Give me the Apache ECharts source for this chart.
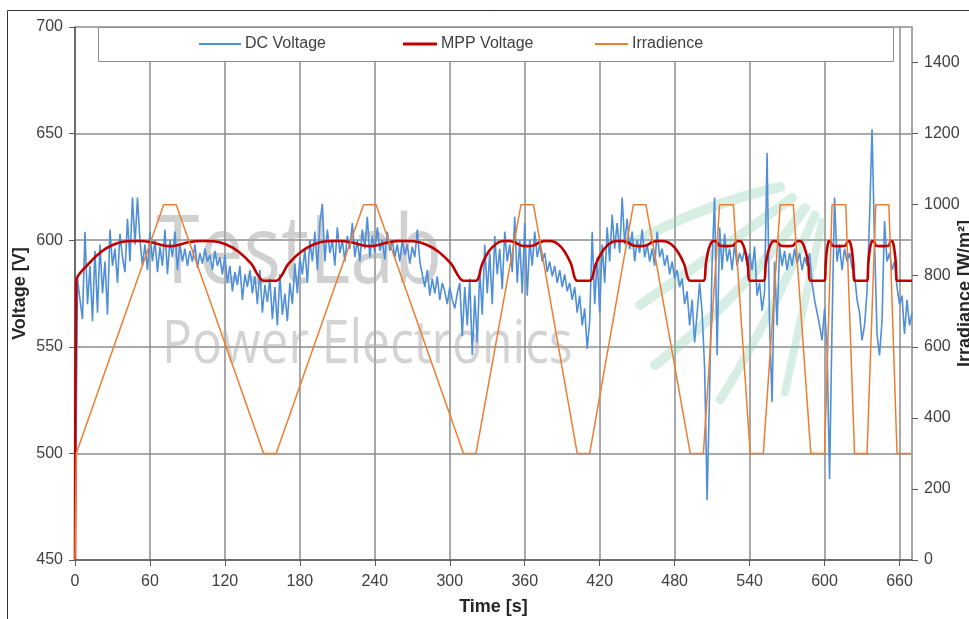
<!DOCTYPE html>
<html><head><meta charset="utf-8">
<script src="https://cdn.jsdelivr.net/npm/echarts@6/dist/echarts.min.js"></script>
<style>html,body{margin:0;padding:0;background:#fff}#c{width:969px;height:619px}</style>
</head><body><div id="c"></div>
<script>
// ---------- data ----------
const seriesNames = ['DC Voltage', 'MPP Voltage', 'Irradience'];

// DC voltage sampled every 2 s starting at t = 0
const dcStep = 2;
const dcVolt = [
  450,
  582, 572, 563, 604, 570, 588, 562, 595, 566, 598,
  575, 590, 565, 605, 588, 596, 580, 603, 592, 585,
  610, 590, 620, 598, 620, 600, 588, 598, 586, 604,
  590, 600, 585, 597, 588, 605, 584, 600, 592, 604,
  586, 598, 590, 596, 588, 595, 590, 598, 587, 594,
  589, 596, 590, 593, 586, 595, 588, 592, 584, 593,
  580, 588, 576, 585, 579, 588, 572, 584, 578, 586,
  575, 583, 570, 586, 566, 579, 571, 582, 563, 578,
  560, 584, 565, 575, 562, 580, 570, 589, 575, 592,
  584, 596, 580, 600, 590, 604, 586, 608, 617, 590,
  605, 594, 600, 588, 606, 594, 600, 590, 602, 596,
  608, 592, 600, 590, 605, 596, 611, 592, 602, 594,
  606, 595, 600, 591, 604, 595, 600, 592, 598, 590,
  600, 593, 598, 589, 597, 592, 605, 590, 584, 578,
  586, 574, 582, 575, 583, 572, 580, 576, 570, 578,
  572, 568, 575, 580, 555, 578, 560, 582, 546, 574,
  552, 586, 565, 598, 575, 594, 570, 602, 584, 596,
  577, 604, 590, 598, 585, 611, 580, 600, 575, 608,
  574, 600, 588, 604, 592, 598, 590, 594, 585, 590,
  583, 588, 580, 586, 578, 584, 576, 580, 572, 578,
  566, 574, 560, 568, 549, 562, 604, 570, 592, 566,
  598, 580, 606, 590, 612, 596, 608, 594, 620, 598,
  610, 596, 604, 590, 600, 594, 605, 592, 598, 590,
  596, 588, 604, 592, 596, 588, 593, 584, 590, 582,
  586, 578, 582, 570, 576, 560, 572, 552, 566, 580,
  566, 540, 478, 530, 590, 620, 546, 606, 586, 603,
  590, 596, 586, 598, 588, 594, 590, 596, 588, 594,
  586, 597, 574, 580, 567, 576, 641, 560, 524, 590,
  560, 597, 588, 595, 586, 594, 588, 596, 589, 594,
  586, 592, 588, 594, 580, 572, 566, 560, 553, 568,
  550, 488, 560, 620, 590, 598, 586, 596, 590, 594,
  587, 584, 572, 566, 553, 560, 576, 610, 652, 600,
  556, 546, 562, 609, 590, 594, 586, 590, 578, 570,
  574, 556, 572, 560, 566
];

// MPP voltage
const mppTime = [
  0, 1, 11, 21, 31, 41, 51, 61, 71, 76, 81, 91, 101, 111, 121, 131, 141, 151,
  161, 171, 181, 191, 201, 211, 221, 231, 236, 241, 251, 261, 271, 281, 291, 301, 311,
  321, 326, 331, 336.5, 341.5, 346.5, 352, 357, 362, 367, 372, 377, 382, 387, 392, 397, 402,
  412, 417, 422, 427, 432, 437, 442, 447, 452, 457, 462, 467, 472, 477.5, 482.5, 487.5, 492.5,
  503, 505, 506.7, 508.6, 510.4, 512.3, 514, 516, 521.5, 527, 529, 530.9, 532.8, 534.7, 536.6, 538.5, 540.5,
  551, 553, 554.9, 556.8, 558.7, 560.6, 562.5, 564.5, 570, 575, 577, 579, 581, 583, 585, 587, 589,
  600, 600.9, 601.7, 602.6, 603.4, 604.3, 605.1, 606, 611.5, 617, 618, 619, 620, 621, 622, 623, 624,
  634, 635, 636, 637, 638, 639, 640, 641, 646, 651.5, 652.4, 653.4, 654.3, 655.2, 656.1, 657.1, 658,
  670
];
const mppVolt = [
  450, 581, 589, 594.6, 598, 599.5, 599.6, 599, 597.5, 597.2, 597.5, 599, 599.6, 599.5, 598, 594.6, 589, 581,
  581, 589, 594.6, 598, 599.5, 599.6, 599, 597.5, 597.2, 597.5, 599, 599.6, 599.5, 598, 594.6, 589, 581,
  581, 589, 594.6, 598, 599.5, 599.6, 599, 597.5, 597.2, 597.5, 599, 599.6, 599.5, 598, 594.6, 589, 581,
  581, 589, 594.6, 598, 599.5, 599.6, 599, 597.5, 597.2, 597.5, 599, 599.6, 599.5, 598, 594.6, 589, 581,
  581, 589, 594.6, 598, 599.5, 599.6, 599, 597.5, 597.2, 597.5, 599, 599.6, 599.5, 598, 594.6, 589, 581,
  581, 589, 594.6, 598, 599.5, 599.6, 599, 597.5, 597.2, 597.5, 599, 599.6, 599.5, 598, 594.6, 589, 581,
  581, 589, 594.6, 598, 599.5, 599.6, 599, 597.5, 597.2, 597.5, 599, 599.6, 599.5, 598, 594.6, 589, 581,
  581, 589, 594.6, 598, 599.5, 599.6, 599, 597.5, 597.2, 597.5, 599, 599.6, 599.5, 598, 594.6, 589, 581,
  581
];

// Irradiance
const irrTime = [0, 1, 71, 81, 151, 161, 231, 241, 311, 321, 357, 367, 402, 412, 447, 457, 492.5, 503,
  516, 527, 540.5, 551, 564.5, 575, 589, 600, 606, 617, 624, 634, 641, 651.5, 658, 670];
const irrValue = [0, 300, 1000, 1000, 300, 300, 1000, 1000, 300, 300, 1000, 1000, 300, 300, 1000, 1000, 300, 300,
  1000, 1000, 300, 300, 1000, 1000, 300, 300, 1000, 1000, 300, 300, 1000, 1000, 300, 300];

// ---------- build ----------
const dcData = dcVolt.map((v, i) => [i * dcStep, v]);
const mppData = mppTime.map((t, i) => [t, mppVolt[i]]);
const irrData = irrTime.map((t, i) => [t, irrValue[i]]);

const FONT = '"Liberation Sans", Arial, sans-serif';
const LBL = '#404040';
const colors = ['#4f8fd8', '#c00000', '#ed7d31'];
const plain = v => String(v);
const titleStyle = { fontFamily: FONT, fontSize: 18, fontWeight: 'bold', color: '#262626' };

function legendItem(name, left, w, h, color) {
  return {
    data: [name], left: left, top: 36, padding: 0, itemWidth: w, itemHeight: h,
    itemGap: 0, icon: 'rect', z: 10,
    itemStyle: { color: color },
    textStyle: { fontFamily: FONT, fontSize: 16, color: LBL, padding: [0, 0, 0, -1] }
  };
}

const chart = echarts.init(document.getElementById('c'), null, { renderer: 'canvas' });
chart.setOption({
  animation: false,
  backgroundColor: '#ffffff',
  grid: { left: 75, right: 57, top: 27, bottom: 59, containLabel: false, outerBoundsMode: 'none' },
  legend: [
    legendItem(seriesNames[0], 199, 42, 2, colors[0]),
    legendItem(seriesNames[1], 403, 34, 3, colors[1]),
    legendItem(seriesNames[2], 595, 33, 2, colors[2])
  ],
  graphic: [
    { type: 'line', silent: true, z: 0, shape: { x1: 7.5, y1: 10.5, x2: 969, y2: 10.5 },
      style: { stroke: '#333333', lineWidth: 1 } },
    { type: 'line', silent: true, z: 0, shape: { x1: 7.5, y1: 10.5, x2: 7.5, y2: 619 },
      style: { stroke: '#333333', lineWidth: 1 } },
    { type: 'text', silent: true, z: 1, x: 156, y: 208, scaleX: 0.82,
      style: { text: 'TestLab', fontSize: 96, fontFamily: '"Open Sans", sans-serif', fill: 'rgba(170,170,170,0.55)' } },
    { type: 'text', silent: true, z: 1, x: 162, y: 316, scaleX: 0.83,
      style: { text: 'Power Electronics', fontSize: 60, fontFamily: '"Open Sans", sans-serif', fill: 'rgba(175,175,175,0.55)' } },
    { type: 'bezierCurve', silent: true, z: 1, shape: { x1: 630, y1: 245, x2: 780, y2: 187, cpx1: 700, cpy1: 205 },
      style: { stroke: 'rgba(140,205,180,0.35)', lineWidth: 10, fill: 'none', lineCap: 'round' } },
    { type: 'bezierCurve', silent: true, z: 1, shape: { x1: 640, y1: 305, x2: 792, y2: 198, cpx1: 720, cpy1: 250 },
      style: { stroke: 'rgba(140,205,180,0.35)', lineWidth: 10, fill: 'none', lineCap: 'round' } },
    { type: 'bezierCurve', silent: true, z: 1, shape: { x1: 655, y1: 365, x2: 805, y2: 208, cpx1: 740, cpy1: 300 },
      style: { stroke: 'rgba(140,205,180,0.35)', lineWidth: 10, fill: 'none', lineCap: 'round' } },
    { type: 'bezierCurve', silent: true, z: 1, shape: { x1: 720, y1: 400, x2: 815, y2: 215, cpx1: 770, cpy1: 320 },
      style: { stroke: 'rgba(140,205,180,0.35)', lineWidth: 9, fill: 'none', lineCap: 'round' } },
    { type: 'bezierCurve', silent: true, z: 1, shape: { x1: 785, y1: 392, x2: 822, y2: 222, cpx1: 805, cpy1: 300 },
      style: { stroke: 'rgba(140,205,180,0.35)', lineWidth: 8, fill: 'none', lineCap: 'round' } },
    { type: 'rect', silent: true, z: 5, shape: { x: 98.5, y: 27.5, width: 795, height: 34 },
      style: { fill: '#ffffff', stroke: '#8c8c8c', lineWidth: 1 } }
  ],
  xAxis: {
    type: 'value', min: 0, max: 670, interval: 60,
    name: 'Time [s]', nameLocation: 'middle', nameGap: 38, nameMoveOverlap: false,
    nameTextStyle: titleStyle,
    axisLine: { show: true, lineStyle: { color: '#595959', width: 1.5 } },
    axisTick: { show: true, length: 6, lineStyle: { color: '#595959' } },
    axisLabel: { fontFamily: FONT, fontSize: 16, color: LBL, margin: 14, showMaxLabel: false, formatter: plain },
    splitLine: { show: true, lineStyle: { color: '#8c8c8c', width: 1.5 } }
  },
  yAxis: [
    {
      type: 'value', min: 450, max: 700, interval: 50, position: 'left',
      name: 'Voltage [V]', nameLocation: 'middle', nameGap: 46, nameRotate: 90, nameMoveOverlap: false,
      nameTextStyle: titleStyle,
      axisLine: { show: true, lineStyle: { color: '#595959', width: 1.5 } },
      axisTick: { show: true, length: 6, lineStyle: { color: '#595959' } },
      axisLabel: { fontFamily: FONT, fontSize: 16, color: LBL, margin: 12, formatter: plain },
      splitLine: { show: true, lineStyle: { color: '#8c8c8c', width: 1.5 } }
    },
    {
      type: 'value', min: 0, max: 1500, interval: 200, position: 'right',
      name: 'Irradiance [W/m²]', nameLocation: 'middle', nameGap: 44, nameRotate: 90, nameMoveOverlap: false,
      nameTextStyle: titleStyle,
      axisLine: { show: true, lineStyle: { color: '#a6a6a6', width: 2 } },
      axisTick: { show: true, length: 6, lineStyle: { color: '#595959' } },
      axisLabel: { fontFamily: FONT, fontSize: 16, color: LBL, margin: 12, showMaxLabel: false, formatter: plain },
      splitLine: { show: false }
    }
  ],
  series: [
    { name: seriesNames[0], type: 'line', yAxisIndex: 0, data: dcData, symbol: 'none', z: 2,
      lineStyle: { color: colors[0], width: 1.6 }, itemStyle: { color: colors[0] } },
    { name: seriesNames[1], type: 'line', yAxisIndex: 0, data: mppData, symbol: 'none', z: 3, smooth: 0.3,
      lineStyle: { color: colors[1], width: 2.6 }, itemStyle: { color: colors[1] } },
    { name: seriesNames[2], type: 'line', yAxisIndex: 1, data: irrData, symbol: 'none', z: 4,
      lineStyle: { color: colors[2], width: 1.5 }, itemStyle: { color: colors[2] } }
  ]
});
</script>
</body></html>
